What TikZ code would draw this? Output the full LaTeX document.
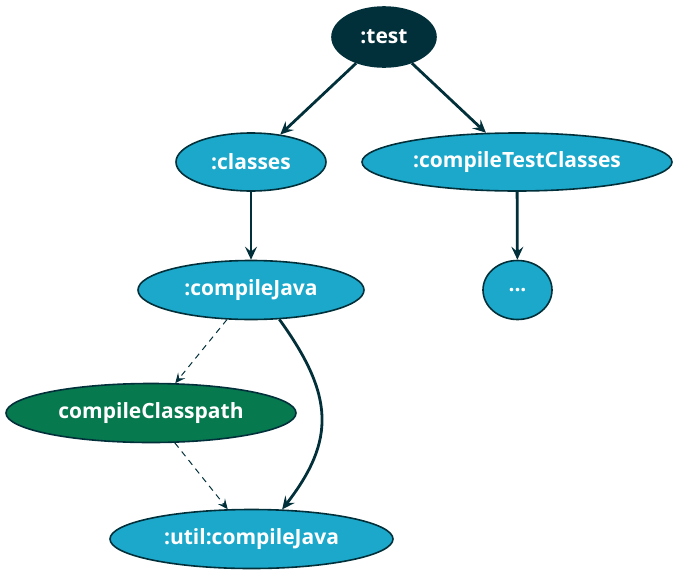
\documentclass[tikz,border=0pt]{standalone}
\usepackage{fontspec}
\setmainfont{Open Sans}
\usetikzlibrary{shapes.geometric,arrows.meta}
\definecolor{gdark}{HTML}{02303A}
\definecolor{gblue}{HTML}{1BA8CB}
\definecolor{ggreen}{HTML}{07794F}
\tikzset{
  task/.style={ellipse, draw=gdark, line width=1.6pt, inner sep=0pt, text=white,
    font=\fontsize{21}{23}\selectfont\bfseries},
  bluetask/.style={task, fill=gblue},
  darktask/.style={task, fill=gdark},
  greentask/.style={task, fill=ggreen},
  dep/.style={draw=gdark, line width=2.8pt, -{Stealth[length=13pt,width=12pt,inset=5pt]}},
  weak/.style={draw=gdark, line width=1pt, dash pattern=on 6pt off 5pt, -{Stealth[length=10pt,width=9pt,inset=4pt]}}
}
\begin{document}
\begin{tikzpicture}[x=1pt,y=-1pt]
\useasboundingbox (0,0) rectangle (677,576);
\node[darktask, minimum width=104pt, minimum height=60pt] (test) at (384,37) {:test};
\node[bluetask, minimum width=150pt, minimum height=58pt] (classes) at (251,162) {:classes};
\node[bluetask, minimum width=310pt, minimum height=58pt] (ctc) at (517,162) {:compileTestClasses};
\node[bluetask, minimum width=226pt, minimum height=59pt] (cj) at (251,290) {:compileJava};
\node[bluetask, minimum width=69pt, minimum height=59pt] (dots) at (517.5,290) {...};
\node[greentask, minimum width=290pt, minimum height=59pt] (cp) at (151,413) {compileClasspath};
\node[bluetask, minimum width=283pt, minimum height=59pt] (util) at (251.5,539) {:util:compileJava};
\draw[dep] (test) -- (classes);
\draw[dep] (test) -- (ctc);
\draw[dep] (classes) -- (cj);
\draw[dep] (ctc) -- (dots);
\draw[weak] (cj) -- (cp);
\draw[weak] (cp) -- (util);
\draw[dep] (cj.-46) .. controls (334,395) and (336,440) .. (util.44.5);
\end{tikzpicture}
\end{document}
